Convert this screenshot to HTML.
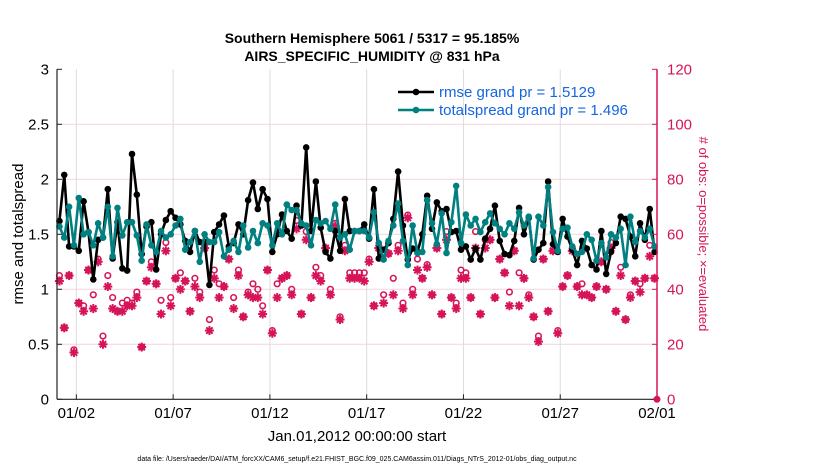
<!DOCTYPE html>
<html><head><meta charset="utf-8">
<style>
body{margin:0;background:#fff;}
svg{display:block;font-family:"Liberation Sans",Arial,sans-serif;}
</style></head>
<body>
<svg id="chart" width="830" height="470" viewBox="0 0 830 470">
  <text x="372" y="43" text-anchor="middle" font-size="14" font-weight="bold">Southern Hemisphere 5061 / 5317 = 95.185%</text>
  <text x="372" y="61" text-anchor="middle" font-size="14" font-weight="bold">AIRS_SPECIFIC_HUMIDITY @ 831 hPa</text>
  <g id="grid"></g>
  <g id="obs"></g>
  <g id="lines"></g>
  <g id="axes"></g>
  <text transform="translate(23,234) rotate(-90)" text-anchor="middle" font-size="15">rmse and totalspread</text>
  <text transform="translate(699,234) rotate(90)" text-anchor="middle" font-size="13" fill="#d6145a"># of obs: o=possible; ×=evaluated</text>
  <text x="357" y="441" text-anchor="middle" font-size="15">Jan.01,2012 00:00:00 start</text>
  <text x="357" y="461" text-anchor="middle" font-size="7">data file: /Users/raeder/DAI/ATM_forcXX/CAM6_setup/f.e21.FHIST_BGC.f09_025.CAM6assim.011/Diags_NTrS_2012-01/obs_diag_output.nc</text>
  <g id="legend"></g>
</svg>
<script>
const rmse=[1.62,2.04,1.39,1.39,1.35,1.80,1.52,1.09,1.45,1.47,1.91,1.28,1.61,1.19,1.17,2.23,1.86,1.32,1.57,1.61,1.18,1.50,1.63,1.71,1.65,1.59,1.44,1.34,1.53,1.43,1.43,1.04,
1.52,1.59,1.67,1.39,1.42,1.59,1.50,1.81,1.97,1.73,1.91,1.82,1.34,1.50,1.68,1.53,1.46,1.76,1.58,2.29,1.53,1.98,1.56,1.34,1.28,1.53,1.35,1.82,1.53,1.53,1.53,
1.59,1.46,1.91,1.28,1.36,1.42,1.64,2.07,1.58,1.27,1.37,1.34,1.50,1.85,1.55,1.79,1.71,1.73,1.52,1.53,1.36,1.39,1.27,1.37,1.27,1.46,1.55,1.76,1.44,1.32,
1.31,1.44,1.74,1.50,1.65,1.27,1.36,1.42,1.98,1.41,1.34,1.64,1.48,1.36,1.22,1.44,1.37,1.22,1.18,1.53,1.14,1.34,1.42,1.66,1.64,1.48,1.30,1.60,1.45,1.73,1.34];
const spread=[1.57,1.47,1.75,1.40,1.83,1.50,1.52,1.40,1.60,1.47,1.75,1.30,1.74,1.49,1.61,1.61,1.49,1.26,1.59,1.40,1.34,1.53,1.47,1.50,1.58,1.64,1.36,1.43,1.53,1.25,1.50,1.43,
1.43,1.52,1.30,1.36,1.44,1.34,1.58,1.38,1.53,1.42,1.60,1.58,1.40,1.60,1.50,1.77,1.72,1.72,1.60,1.58,1.40,1.63,1.60,1.62,1.55,1.77,1.47,1.50,1.36,1.53,1.53,
1.53,1.47,1.70,1.42,1.27,1.44,1.58,1.78,1.44,1.22,1.58,1.33,1.34,1.81,1.60,1.41,1.69,1.33,1.61,1.94,1.42,1.68,1.58,1.64,1.52,1.61,1.69,1.60,1.55,1.50,
1.60,1.55,1.70,1.58,1.66,1.28,1.66,1.58,1.93,1.52,1.35,1.55,1.56,1.39,1.32,1.34,1.50,1.45,1.26,1.42,1.29,1.50,1.47,1.55,1.22,1.66,1.43,1.53,1.47,1.55,1.39];
const evaluated=[43,26,45,17,35,32,47,33,50,20,41,33,32,32,34,34,37,19,43,48,42,31,54,34,44,40,43,32,41,37,55,25,
44,37,41,51,33,45,30,38,37,37,31,47,24,37,44,45,38,62,31,58,37,45,43,55,38,63,29,54,44,44,44,
43,50,34,55,35,53,38,54,33,66,38,47,44,48,38,55,31,58,37,33,44,44,37,55,31,55,58,37,51,46,
34,54,34,44,37,30,21,51,32,54,24,41,45,54,41,38,38,37,41,50,40,55,32,45,29,37,43,39,44,52,44];
const possible=[45,26,45,18,35,34,47,38,51,23,45,37,32,35,36,35,39,19,43,50,42,36,57,37,44,46,43,32,44,39,55,29,
47,42,41,51,37,47,30,39,42,40,34,47,25,42,44,45,40,65,31,61,37,48,45,55,40,64,30,56,46,46,46,
46,51,34,55,38,53,44,56,35,67,40,51,44,49,38,55,31,61,37,35,47,46,37,61,31,58,58,37,51,46,
39,54,46,44,38,30,23,51,32,54,25,41,45,55,41,42,38,37,41,50,40,57,32,48,29,38,43,42,44,56,44];
const xTickLabels=["01/02","01/07","01/12","01/17","01/22","01/27","02/01"];
const xTickDays=[1,6,11,16,21,26,31];
const yTickLabels=["0","0.5","1","1.5","2","2.5","3"];
const yTickValues=[0,0.5,1,1.5,2,2.5,3];
const rTickLabels=["0","20","40","60","80","100","120"];
const rTickValues=[0,20,40,60,80,100,120];

const NS="http://www.w3.org/2000/svg";
const X0=57,X1=657,Y0=399.3,Y1=69.3,DAYS=31,PINK="#d6145a",TEAL="#008080";
const xScale=d=>X0+(d/DAYS)*(X1-X0);
const yScale=v=>Y0+(v/3)*(Y1-Y0);
const rScale=v=>Y0+(v/120)*(Y1-Y0);
const tDay=i=>(i+0.5)*0.25;
function mk(tag,attrs,parent){const e=document.createElementNS(NS,tag);for(const k in attrs)e.setAttribute(k,attrs[k]);parent.appendChild(e);return e;}
const grid=document.getElementById('grid'),axes=document.getElementById('axes'),obs=document.getElementById('obs'),lines=document.getElementById('lines'),leg=document.getElementById('legend');

yTickValues.forEach((v,i)=>{
  const y=yScale(v);
  if(i>0&&i<yTickValues.length-1){const g=mk('line',{x1:X0,x2:X1,y1:y,y2:y,stroke:"#f3d3de","stroke-width":1},grid);
  
  }
  mk('line',{x1:X0,x2:X0+5,y1:y,y2:y,stroke:"#222"},axes);
  const t=mk('text',{x:X0-8,y:y+5,"text-anchor":"end","font-size":15},axes);t.textContent=yTickLabels[i];
  
  
});
rTickValues.forEach((v,i)=>{
  const y=rScale(v);
  mk('line',{x1:X1-5,x2:X1,y1:y,y2:y,stroke:PINK},axes);
  const t=mk('text',{x:X1+10,y:y+5,"font-size":15,fill:PINK},axes);t.textContent=rTickLabels[i];
  
  
});
xTickDays.forEach((d,i)=>{
  const x=xScale(d);
  if(d<DAYS){const g=mk('line',{x1:x,x2:x,y1:Y1,y2:Y0,stroke:"#dcdcdc","stroke-width":1},grid);
  
  }
  mk('line',{x1:x,x2:x,y1:Y0,y2:Y0-5,stroke:"#222"},axes);
  const t=mk('text',{x:x,y:418,"text-anchor":"middle","font-size":15},axes);t.textContent=xTickLabels[i];
  
  
});
mk('line',{x1:X0,x2:X0,y1:Y1,y2:Y0,stroke:"#222","stroke-width":1.2},axes);
mk('line',{x1:X0,x2:X1,y1:Y0,y2:Y0,stroke:"#222","stroke-width":1.2},axes);
mk('line',{x1:X1,x2:X1,y1:Y1,y2:Y0,stroke:PINK,"stroke-width":1.5},axes);
const zm=mk('circle',{cx:X1,cy:Y0,r:3.5,fill:PINK},axes);



function asterisk(x,y,parent){
  const g=mk('g',{stroke:PINK,"stroke-width":2},parent);
  for(let a=0;a<4;a++){const ang=a*Math.PI/4,dx=4.5*Math.cos(ang),dy=4.5*Math.sin(ang);
    mk('line',{x1:x-dx,y1:y-dy,x2:x+dx,y2:y+dy},g);}
  return g;
}
evaluated.forEach((v,i)=>{
  const g=asterisk(xScale(tDay(i)),rScale(v),obs);
  
  
});
possible.forEach((v,i)=>{
  const c=mk('circle',{cx:xScale(tDay(i)),cy:rScale(v),r:2.8,fill:"none",stroke:PINK,"stroke-width":1.6},obs);
  
  
});

function series(vals,color,name){
  const pts=vals.map((v,i)=>xScale(tDay(i)).toFixed(1)+","+yScale(v).toFixed(1)).join(" ");
  const p=mk('polyline',{points:pts,fill:"none",stroke:color,"stroke-width":2.6,"stroke-linejoin":"round"},lines);
  
  
  vals.forEach((v,i)=>{
    const c=mk('circle',{cx:xScale(tDay(i)),cy:yScale(v),r:3.3,fill:color},lines);
    
    
  });
}
series(rmse,"#000","rmse");
series(spread,TEAL,"totalspread");

[["#000","rmse grand pr = 1.5129",92],[TEAL,"totalspread grand pr = 1.496",110]].forEach(([c,txt,y],k)=>{
  const l=mk('line',{x1:398,x2:434,y1:y,y2:y,stroke:c,"stroke-width":2.6},leg);
  
  
  mk('circle',{cx:416,cy:y,r:3.3,fill:c},leg);
  const t=mk('text',{x:439,y:y+5,"font-size":15,fill:"#1565e0"},leg);t.textContent=txt;
  
  
});
</script>
</body></html>
